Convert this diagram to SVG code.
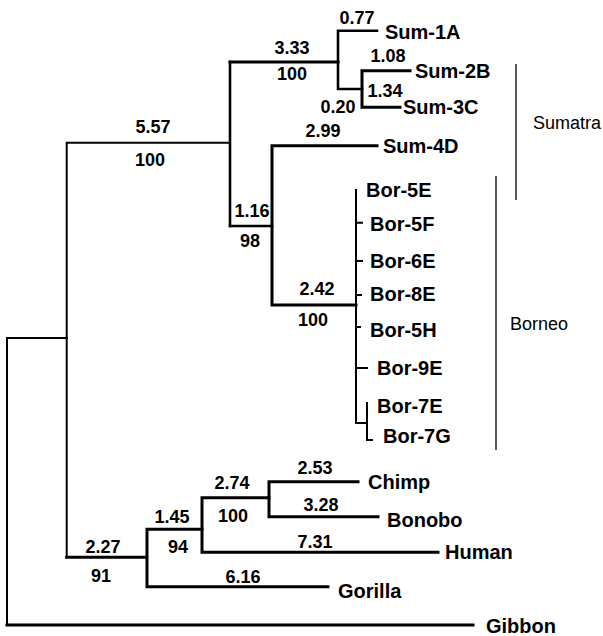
<svg xmlns="http://www.w3.org/2000/svg" width="603" height="636" viewBox="0 0 603 636">
<style>
.e{fill:none;stroke:#000;stroke-width:2.6;stroke-linecap:square}
.t{stroke-width:3}
.n{stroke-width:2}
.r{fill:none;stroke:#000;stroke-width:1.3}
.tx{font-family:"Liberation Sans",Arial,sans-serif;font-weight:bold;font-size:20px;fill:#000}
.bl{font-family:"Liberation Sans",Arial,sans-serif;font-weight:bold;font-size:18px;fill:#000;text-anchor:middle}
.rg{font-family:"Liberation Sans",Arial,sans-serif;font-size:18px;fill:#000}
</style>
<rect width="603" height="636" fill="#fff"/>
<g id="connectors">
<path class="e n" d="M7,338 V625 M7,338 H66.7"/>
<path class="e n" d="M66.7,142.7 V557.3 M66.7,142.7 H230"/>
<path class="e" d="M230,62 V226"/>
<path class="e t" d="M230,62 H338"/>
<path class="e" d="M338,30.7 V89 M338,30.7 H377 M338,89 H362"/>
<path class="e t" d="M362,70.7 V107.3 M362,70.7 H410 M362,107.3 H400"/>
<path class="e" d="M230,226 H272"/>
<path class="e t" d="M272,145.7 V305 M272,145.7 H377 M272,305 H356"/>
<path class="e n" d="M356,190 V423"/>
<path class="e n" d="M356,222.7 H362 M356,261 H362 M356,295 H361 M356,327 H360 M356,368 H367"/>
<path class="e n" d="M356,423 H367 M367,403 V440 M367,440 H372"/>
<path class="e t" d="M66.7,557.3 H147 M147,529.3 V586.7 M147,586.7 H328 M147,529.3 H202"/>
<path class="e t" d="M202,497.7 V552.3 M202,552.3 H438 M202,497.7 H269"/>
<path class="e t" d="M269,481.7 V516.7 M269,481.7 H358 M269,516.7 H378"/>
<path class="e t" d="M7,625 H473"/>
</g>
<g id="branch-labels">
<text class="bl" x="357" y="24">0.77</text>
<text class="bl" x="388" y="62">1.08</text>
<text class="bl" x="385" y="97">1.34</text>
<text class="bl" x="338" y="113">0.20</text>
<text class="bl" x="292" y="54">3.33</text>
<text class="bl" x="292" y="80">100</text>
<text class="bl" x="323" y="137">2.99</text>
<text class="bl" x="153" y="133">5.57</text>
<text class="bl" x="150" y="166">100</text>
<text class="bl" x="252" y="217">1.16</text>
<text class="bl" x="250" y="247">98</text>
<text class="bl" x="317" y="295">2.42</text>
<text class="bl" x="313" y="326">100</text>
<text class="bl" x="103" y="553">2.27</text>
<text class="bl" x="101" y="582">91</text>
<text class="bl" x="172" y="523">1.45</text>
<text class="bl" x="178" y="553">94</text>
<text class="bl" x="232" y="489">2.74</text>
<text class="bl" x="233" y="522">100</text>
<text class="bl" x="243" y="583">6.16</text>
<text class="bl" x="315" y="474">2.53</text>
<text class="bl" x="321" y="511">3.28</text>
<text class="bl" x="315" y="548">7.31</text>
</g>
<g id="Sum-1A"><text class="tx" x="385" y="38.5">Sum-1A</text></g>
<g id="Sum-2B"><text class="tx" x="415" y="78">Sum-2B</text></g>
<g id="Sum-3C"><text class="tx" x="403" y="114">Sum-3C</text></g>
<g id="Sum-4D"><text class="tx" x="383" y="153">Sum-4D</text></g>
<g id="Bor-5E"><text class="tx" x="366" y="197">Bor-5E</text></g>
<g id="Bor-5F"><text class="tx" x="370" y="231">Bor-5F</text></g>
<g id="Bor-6E"><text class="tx" x="370" y="268">Bor-6E</text></g>
<g id="Bor-8E"><text class="tx" x="370" y="301">Bor-8E</text></g>
<g id="Bor-5H"><text class="tx" x="370" y="337">Bor-5H</text></g>
<g id="Bor-9E"><text class="tx" x="377" y="375">Bor-9E</text></g>
<g id="Bor-7E"><text class="tx" x="377" y="413">Bor-7E</text></g>
<g id="Bor-7G"><text class="tx" x="383" y="443">Bor-7G</text></g>
<g id="Chimp"><text class="tx" x="368" y="489">Chimp</text></g>
<g id="Bonobo"><text class="tx" x="387" y="527">Bonobo</text></g>
<g id="Human"><text class="tx" x="445" y="559">Human</text></g>
<g id="Gorilla"><text class="tx" x="338" y="598">Gorilla</text></g>
<g id="Gibbon"><text class="tx" x="486" y="633">Gibbon</text></g>
<g id="Sumatra"><path class="r" d="M516,64 V200"/><text class="rg" x="533" y="129">Sumatra</text></g>
<g id="Borneo"><path class="r" d="M496,176 V450"/><text class="rg" x="510" y="330">Borneo</text></g>
</svg>
